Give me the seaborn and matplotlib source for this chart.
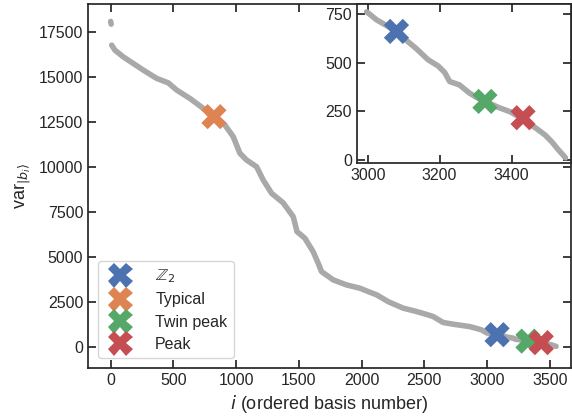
import pandas as pd
import matplotlib
matplotlib.use("Agg")
import matplotlib.pyplot as plt
import seaborn as sns

# Theme: ticks inside on all sides
sns.set_theme(style="ticks", rc={
    "xtick.direction": "in", "ytick.direction": "in",
    "xtick.top": True, "ytick.right": True,
})
plt.rcParams["font.family"] = ["Liberation Sans", "DejaVu Sans"]
plt.rcParams["mathtext.fontset"] = "dejavusans"

# First (isolated) basis states
head_x = [0, 4]
head_y = [18100, 17950]

# Sorted variance curve
curve_x = [8, 34, 100, 180, 260, 366, 459, 526, 632, 738, 823, 911, 977, 1030,
           1084, 1163, 1216, 1283, 1375, 1455, 1472, 1485, 1548, 1614, 1654,
           1681, 1774, 1880, 1986, 2053, 2120, 2212, 2331, 2438, 2531, 2571,
           2650, 2730, 2863, 2956, 2997, 3025, 3057, 3080, 3108, 3136, 3168,
           3196, 3214, 3228, 3255, 3283, 3301, 3326, 3365, 3397, 3432, 3471,
           3494, 3513, 3527, 3550]
curve_y = [16780, 16500, 16130, 15760, 15390, 14930, 14680, 14280, 13810, 13260,
           12870, 12330, 11680, 10760, 10380, 10010, 9270, 8530, 8000, 7230,
           6770, 6400, 6030, 5280, 4640, 4170, 3710, 3430, 3250, 3060, 2880,
           2500, 2140, 1950, 1760, 1670, 1340, 1245, 1110, 930, 763, 721, 687,
           662, 615, 572, 516, 484, 451, 404, 387, 345, 324, 303, 270, 248, 210,
           160, 128, 92, 60, 12]

# Highlighted states
labels = [r"$\mathbb{Z}_2$", "Typical", "Twin peak", "Peak"]
mark_x = [3080, 823, 3326, 3432]
mark_y = [662, 12800, 302, 218]
colors = sns.color_palette("deep", 4)

curve = pd.DataFrame({"i": curve_x, "var": curve_y})
head = pd.DataFrame({"i": head_x, "var": head_y})
marks = pd.DataFrame({"i": mark_x, "var": mark_y, "state": labels})
tail = curve[curve["i"] >= 2990]  # the inset only shows the last states

fig = plt.figure(figsize=(5.72, 4.18), dpi=100)
ax = fig.add_axes([0.154, 0.12, 0.844, 0.87])
axins = fig.add_axes([0.624, 0.61, 0.374, 0.38])

line_kw = dict(color="#a9a9a9", linewidth=4, solid_capstyle="round",
               solid_joinstyle="round", sort=False, estimator=None, legend=False)

# main panel
sns.lineplot(data=curve, x="i", y="var", ax=ax, **line_kw)
sns.lineplot(data=head, x="i", y="var", ax=ax, **line_kw)
sns.scatterplot(data=marks, x="i", y="var", hue="state", palette=colors,
                marker="X", s=330, linewidth=0, ax=ax, zorder=5)

# inset
sns.lineplot(data=tail, x="i", y="var", ax=axins, **line_kw)
sns.scatterplot(data=marks, x="i", y="var", hue="state", palette=colors,
                marker="X", s=330, linewidth=0, ax=axins, zorder=5, legend=False)

ax.set_xlim(-180, 3668)
ax.set_ylim(-1185, 19060)
ax.set_xticks([0, 500, 1000, 1500, 2000, 2500, 3000, 3500])
ax.set_yticks([0, 2500, 5000, 7500, 10000, 12500, 15000, 17500])
ax.set_xlabel(r"$i$ (ordered basis number)", fontsize=13)
ax.set_ylabel(r"var$_{|b_i\rangle}$", fontsize=13)
ax.tick_params(labelsize=11.5)

axins.set_xlim(2970, 3565)
axins.set_ylim(-15, 802)
axins.set_xticks([3000, 3200, 3400])
axins.set_yticks([0, 250, 500, 750])
axins.set_xlabel("")
axins.set_ylabel("")
axins.tick_params(labelsize=11.5)

handles, _ = ax.get_legend_handles_labels()
for h in handles:
    h.set_markersize(18)
leg = ax.legend(handles=handles, labels=labels, loc="lower left", fontsize=11.5,
                frameon=True, handletextpad=1.2, labelspacing=0.45, borderaxespad=0.6)

fig.savefig("out.png", dpi=100)
